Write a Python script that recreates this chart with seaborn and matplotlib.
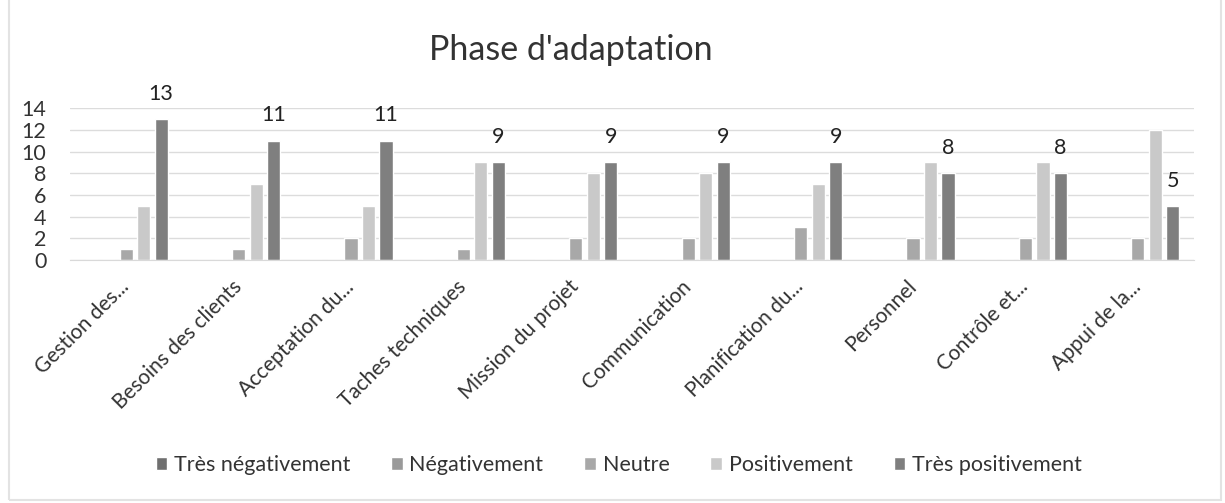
import numpy as np
import pandas as pd
import matplotlib
matplotlib.use("Agg")
import matplotlib.pyplot as plt
import seaborn as sns

categories = ["Gestion des...", "Besoins des clients", "Acceptation du...",
              "Taches techniques", "Mission du projet", "Communication",
              "Planification du...", "Personnel", "Contrôle et...", "Appui de la..."]
series = ["Très négativement", "Négativement", "Neutre", "Positivement", "Très positivement"]

tres_negativement = [0, 0, 0, 0, 0, 0, 0, 0, 0, 0]
negativement = [0, 0, 0, 0, 0, 0, 0, 0, 0, 0]
neutre = [1, 1, 2, 1, 2, 2, 3, 2, 2, 2]
positivement = [5, 7, 5, 9, 8, 8, 7, 9, 9, 12]
tres_positivement = [13, 11, 11, 9, 9, 9, 9, 8, 8, 5]

colors = ["#6f6f6f", "#9a9a9a", "#a8a8a8", "#c9c9c9", "#7f7f7f"]

values = [tres_negativement, negativement, neutre, positivement, tres_positivement]
df = pd.DataFrame({
    "categorie": np.tile(categories, len(series)),
    "reponse": np.repeat(series, len(categories)),
    "valeur": np.concatenate(values),
})

sns.set_style("white")
plt.rcParams["font.family"] = ["Lato", "DejaVu Sans"]

fig = plt.figure(figsize=(12.25, 5.03), dpi=100)
ax = fig.add_axes([0.0571, 0.483, 0.9176, 0.302])

sns.barplot(data=df, x="categorie", y="valeur", hue="reponse", hue_order=series,
            palette=colors, width=0.78, gap=0.25, ax=ax, saturation=1)

ax.set_ylim(0, 14)
ax.set_yticks(range(0, 15, 2))
ax.set_xlim(-0.5, len(categories) - 0.5)
ax.grid(axis="y", color="#dcdcdc", linewidth=1)
ax.set_axisbelow(True)
for s in ["top", "right", "left"]:
    ax.spines[s].set_visible(False)
ax.spines["bottom"].set_color("#d9d9d9")
ax.set_xlabel("")
ax.set_ylabel("")
ax.tick_params(axis="y", labelsize=15.5, colors="#333333", length=0, pad=17)
ax.tick_params(axis="x", labelsize=15, colors="#333333", length=0, pad=17)
plt.setp(ax.get_xticklabels(), rotation=45, ha="right", va="center",
         rotation_mode="anchor")

# étiquettes de données seulement pour "Très positivement"
ax.bar_label(ax.containers[4], fontsize=15.5, color="#222222", padding=11)

handles, labels = ax.get_legend_handles_labels()
ax.legend_.remove()
fig.legend(handles, labels, loc="center", bbox_to_anchor=(0.505, 0.075), ncol=5,
           frameon=False, fontsize=15.5, handlelength=0.55, handleheight=0.55,
           handletextpad=0.3, columnspacing=1.9, labelcolor="#333333")

fig.text(0.466, 0.9, "Phase d'adaptation", ha="center", va="center",
         fontsize=24.5, color="#333333")

# cadre léger du graphique
fig.patches.append(plt.Rectangle((0.007, 0.006), 0.99, 1.2, transform=fig.transFigure,
                                 fill=False, edgecolor="#e3e3e3", linewidth=1.5))

fig.savefig("out.png", dpi=100)
